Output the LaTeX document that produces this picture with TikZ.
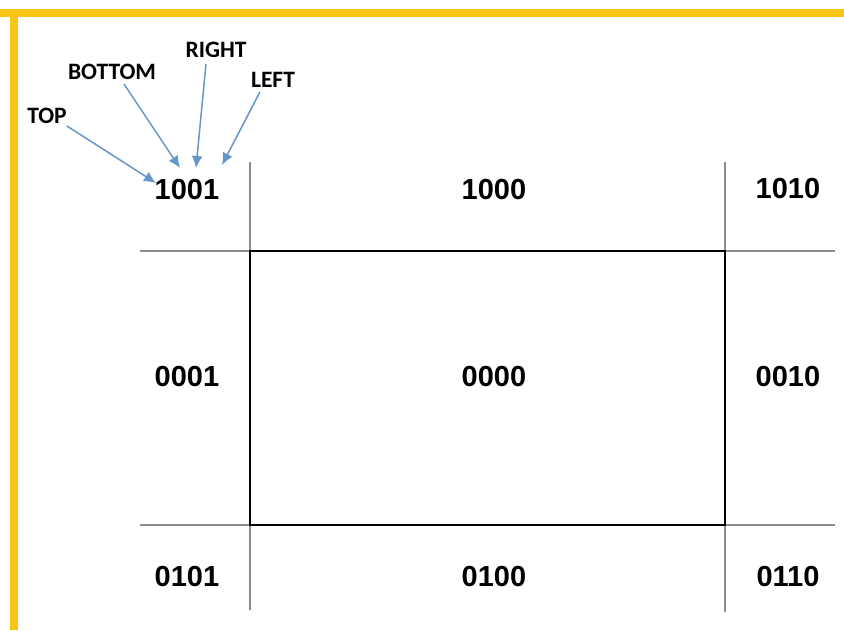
\documentclass[tikz,border=0pt]{standalone}
\usepackage{fontspec}
\setmainfont{Liberation Sans}
\newfontfamily\labelfont{Carlito}
\usetikzlibrary{arrows.meta,positioning,calc}

\definecolor{frameyellow}{RGB}{250,196,20}
\definecolor{gridgray}{RGB}{140,140,140}
\definecolor{arrowblue}{RGB}{100,150,200}

\begin{document}
\begin{tikzpicture}[
  x=1pt, y=-1pt,
  >=Latex,
  code/.style={font=\fontsize{29}{31}\selectfont\bfseries, inner sep=0pt},
  dirlabel/.style={font=\labelfont\fontsize{23.5}{25}\selectfont\bfseries, inner sep=0pt},
  gridline/.style={draw=gridgray, line width=2pt},
  window/.style={draw=black, line width=2pt},
  pointer/.style={draw=arrowblue, line width=1.5pt,
                  -{Latex[length=12pt,width=11pt]}}
]
\useasboundingbox (0,0) rectangle (844,630);

% frame
\fill[frameyellow] (0,9) rectangle (844,17);
\fill[frameyellow] (10,9) rectangle (18,630);

% grid lines
\coordinate (v1top) at (250,162);
\coordinate (v1bot) at (250,610);
\coordinate (v2top) at (725,162);
\coordinate (v2bot) at (725,612);
\coordinate (h1left) at (140,251);
\coordinate (h1right) at (835,251);
\coordinate (h2left) at (140,525);
\coordinate (h2right) at (835,525);
\draw[gridline] (v1top) -- (v1bot);
\draw[gridline] (v2top) -- (v2bot);
\draw[gridline] (h1left) -- (h1right);
\draw[gridline] (h2left) -- (h2right);
\draw[window] (250,251) rectangle (725,525);

% region codes
\node[code] (c1001) at (187,190) {1001};
\node[code] (c1000) at (494,190) {1000};
\node[code] (c1010) at (788,189) {1010};
\node[code] (c0001) at (187,377) {0001};
\node[code] (c0000) at (494,377) {0000};
\node[code] (c0010) at (788,377) {0010};
\node[code] (c0101) at (187,577) {0101};
\node[code] (c0100) at (494,577) {0100};
\node[code] (c0110) at (788,577) {0110};

% bit labels
\node[dirlabel] (top) at (47,116) {TOP};
\node[dirlabel] (bottom) at (112,72) {BOTTOM};
\node[dirlabel] (right) at (216,50) {RIGHT};
\node[dirlabel] (left) at (273,80) {LEFT};

\coordinate (tiptop) at (156,183);
\coordinate (tipbottom) at (180,168);
\coordinate (tipright) at (196,168);
\coordinate (tipleft) at (222,165);
\draw[pointer] ($(top.south east)+(0,2)$) -- (tiptop);
\draw[pointer] ($(bottom.south)+(12,4)$) -- (tipbottom);
\draw[pointer] ($(right.south)+(-10,6)$) -- (tipright);
\draw[pointer] ($(left.south)+(-13,4)$) -- (tipleft);

\end{tikzpicture}
\end{document}
